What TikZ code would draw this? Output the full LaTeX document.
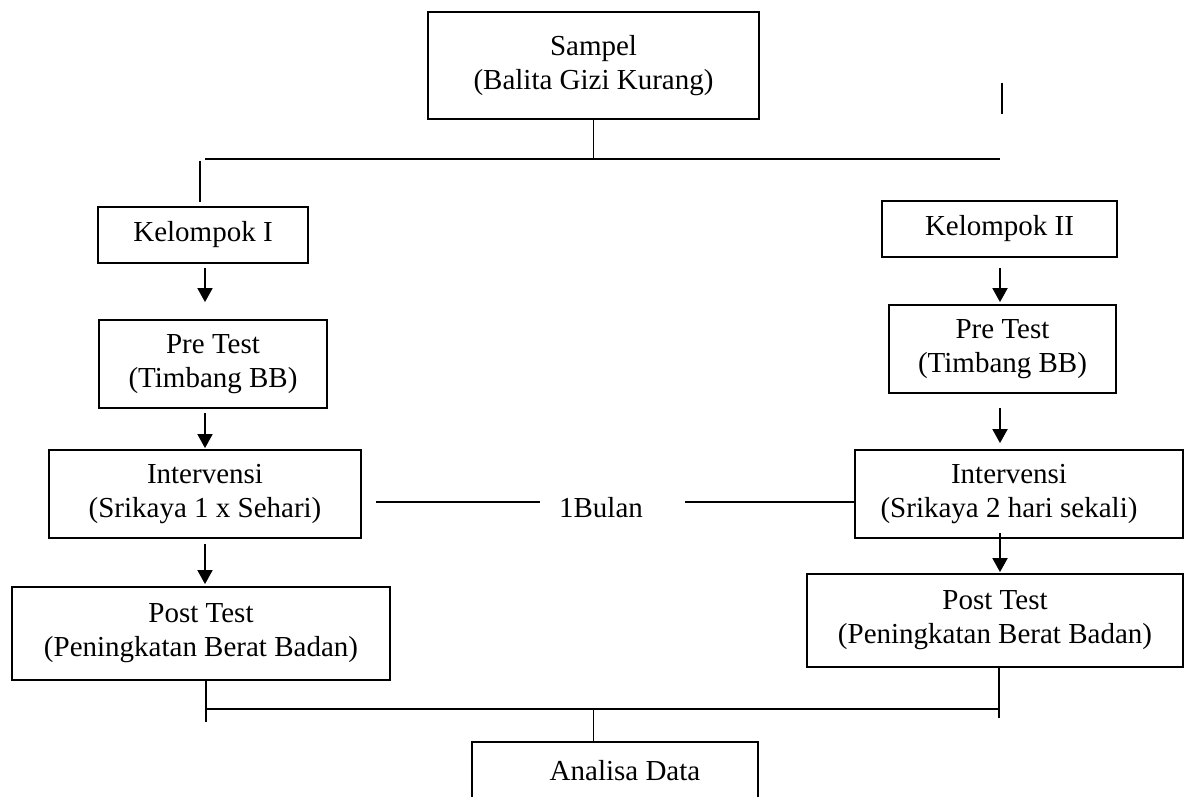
\documentclass[tikz,border=0pt]{standalone}
\usepackage{fontspec}
\setmainfont{Liberation Serif}
\usetikzlibrary{arrows.meta}
\begin{document}
\begin{tikzpicture}[x=1pt,y=-1pt,
  txt/.style={font=\fontsize{29}{34}\selectfont},
  box/.style={txt, draw, line width=1.8pt, rectangle, align=center, inner sep=0pt},
  conn/.style={line width=1.8pt},
  arr/.style={conn, -{Triangle[width=15pt,length=14pt]}}]
\useasboundingbox (0,0) rectangle (1189,797);
\clip (0,0) rectangle (1189,797);
% boxes
\node[box, minimum width=331, minimum height=107] (sampel) at (593.5,65.5) {Sampel\\(Balita Gizi Kurang)};
\node[box, minimum width=210, minimum height=56] (kel1) at (203,235) {Kelompok I};
\node[box, minimum width=228, minimum height=88] (pre1) at (213,364) {Pre Test\\(Timbang BB)};
\node[box, minimum width=312, minimum height=88] (int1) at (205,494) {Intervensi\\(Srikaya 1 x Sehari)};
\node[box, minimum width=378, minimum height=93] (post1) at (201,633.5) {Post Test\\(Peningkatan Berat Badan)};
\node[box, minimum width=235, minimum height=56] (kel2) at (999.5,229) {Kelompok II};
\node[box, minimum width=227, minimum height=88] (pre2) at (1002.5,349) {Pre Test\\(Timbang BB)};
\node[box, minimum width=328, minimum height=88] (int2) at (1019,494) {Intervensi\hspace*{20pt}\\(Srikaya 2 hari sekali)\hspace*{20pt}};
\node[box, minimum width=376, minimum height=93] (post2) at (995,620.5) {Post Test\\(Peningkatan Berat Badan)};
\node[box, minimum width=286, minimum height=58] (ana) at (615,771) {\hspace*{20pt}Analisa Data};
\node[txt, inner sep=0pt] (bulan) at (601,508) {1Bulan};
% coordinates
\coordinate (colL) at (205,0);
\coordinate (colR) at (1000,0);
\coordinate (tL) at (205,159);
\coordinate (tR) at (1000,159);
\coordinate (sL1) at (200,161);
\coordinate (sL2) at (200,202);
\coordinate (sR1) at (1002,83);
\coordinate (sR2) at (1002,114);
\coordinate (bL) at (206,709);
\coordinate (bR) at (999,709);
\coordinate (bLend) at (206,722);
\coordinate (bRend) at (999,718);
\coordinate (m1) at (376,502);
\coordinate (m2) at (540,502);
\coordinate (m3) at (685,502);
% top tree
\draw[conn] (sampel.south) -- (sampel.south |- tL);
\draw[conn] (tL) -- (tR);
\draw[conn] (sL1) -- (sL2);
\draw[conn] (sR1) -- (sR2);
% left column arrows
\draw[arr, shorten <=4pt, shorten >=17pt] (kel1.south -| colL) -- (pre1.north -| colL);
\draw[arr, shorten <=4pt, shorten >=1pt] (pre1.south -| colL) -- (int1.north -| colL);
\draw[arr, shorten <=5pt, shorten >=2pt] (int1.south -| colL) -- (post1.north -| colL);
% right column arrows
\draw[arr, shorten <=10pt, shorten >=2pt] (kel2.south -| colR) -- (pre2.north -| colR);
\draw[arr, shorten <=14pt, shorten >=6pt] (pre2.south -| colR) -- (int2.north -| colR);
\draw[arr, shorten <=-6pt, shorten >=1pt] (int2.south -| colR) -- (post2.north -| colR);
% 1 Bulan line
\draw[conn] (m1) -- (m2);
\draw[conn] (m3) -- (int2.west |- m3);
% bottom tree
\draw[conn] (post1.south -| bL) -- (bLend);
\draw[conn] (post2.south -| bR) -- (bRend);
\draw[conn] (bL) -- (bR);
\draw[conn] (sampel.south |- bL) -- (ana.north -| sampel.south);
\end{tikzpicture}
\end{document}
